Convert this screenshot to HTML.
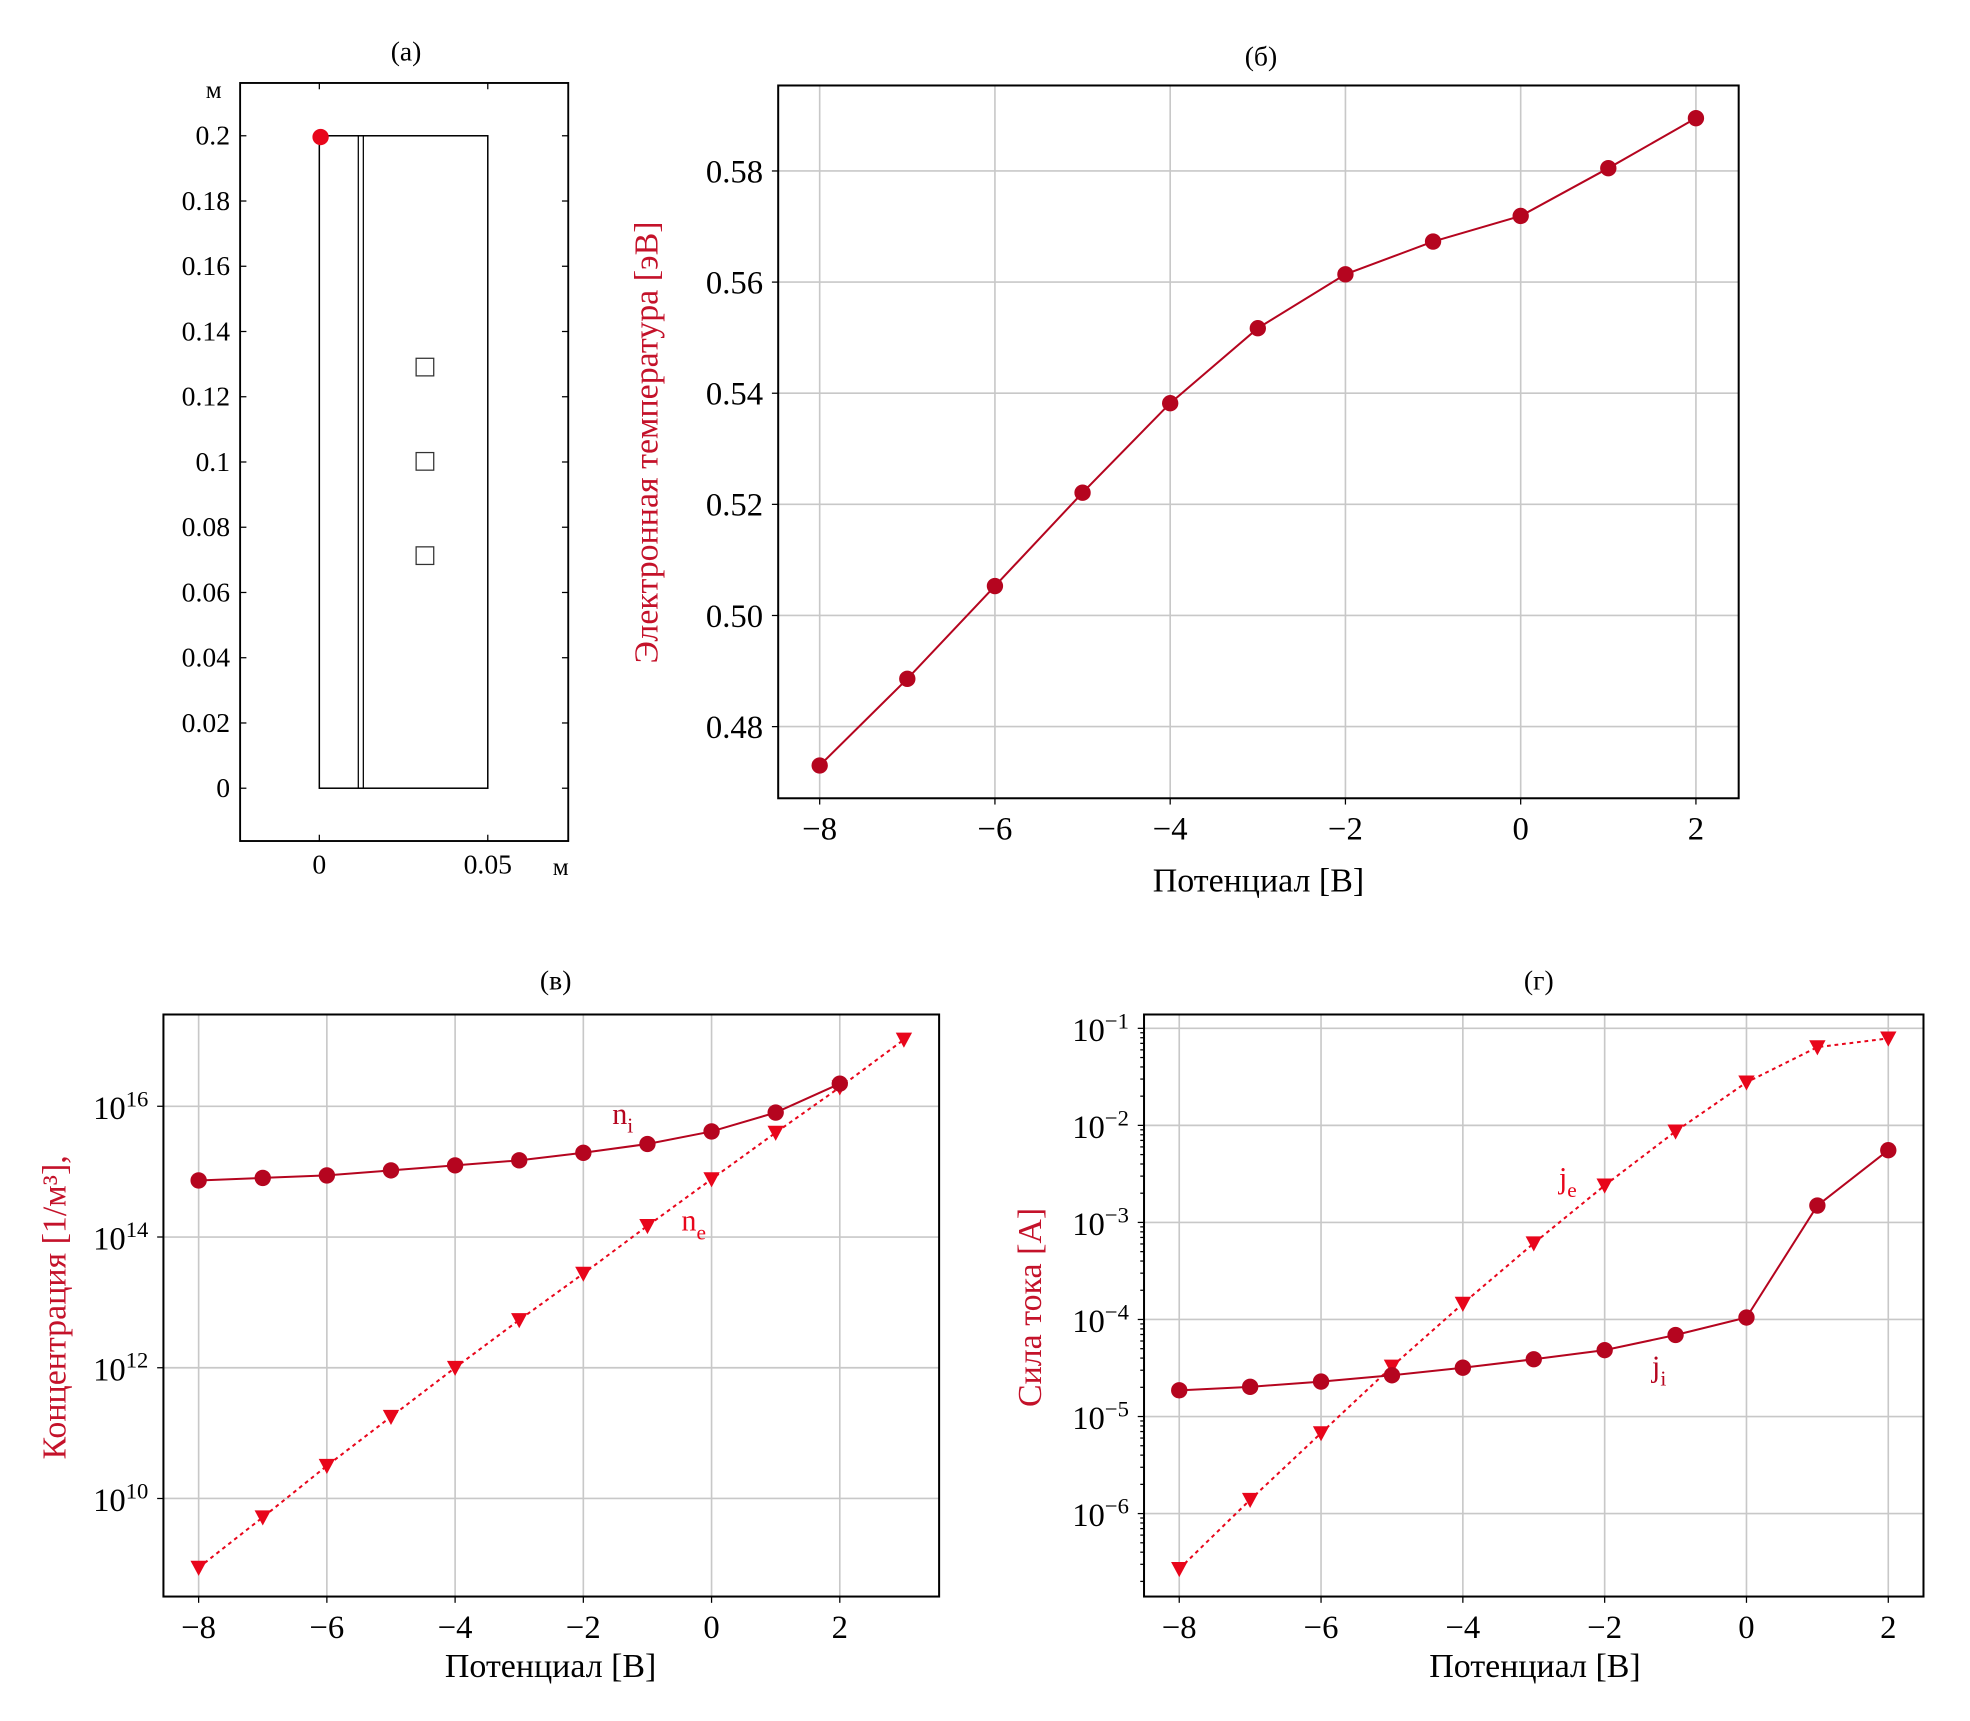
<!DOCTYPE html>
<html><head><meta charset="utf-8"><style>
html,body{margin:0;padding:0;background:#fff;}
svg, svg text{font-family:"Liberation Serif","Times New Roman",serif;}
svg{display:block;}
</style></head><body>
<svg id="fig" width="1970" height="1721" viewBox="0 0 1567 1369" preserveAspectRatio="none" font-family="Liberation Serif, Times New Roman, serif" xmlns="http://www.w3.org/2000/svg"></svg>
<script>
// Panel (б) data
const potB = [-8,-7,-6,-5,-4,-3,-2,-1,0,1,2];
const teB = [0.473,0.4886,0.5053,0.5221,0.5382,0.5517,0.5614,0.5673,0.5719,0.5805,0.5895];
const yTicksB = [0.48,0.50,0.52,0.54,0.56,0.58];
const xTicks = [-8,-6,-4,-2,0,2];
// Panel (в) data (log10 values)
const potNi = [-8,-7,-6,-5,-4,-3,-2,-1,0,1,2];
const logNi = [14.865,14.904,14.942,15.019,15.096,15.173,15.288,15.423,15.615,15.904,16.346];
const potNe = [-8,-7,-6,-5,-4,-3,-2,-1,0,1,2,3];
const logNe = [8.942,9.712,10.5,11.25,12.0,12.73,13.44,14.17,14.885,15.596,16.29,17.02];
const yTicksV = [10,12,14,16];
// Panel (г) data (log10 values)
const potJ = [-8,-7,-6,-5,-4,-3,-2,-1,0,1,2];
const logJi = [-4.73,-4.694,-4.64,-4.575,-4.497,-4.41,-4.316,-4.16,-3.98,-2.826,-2.256];
const logJe = [-6.57,-5.858,-5.171,-4.485,-3.837,-3.215,-2.619,-2.062,-1.557,-1.194,-1.104];
const yTicksG = [-6,-5,-4,-3,-2,-1];
// Panel (a) ticks
const yTicksA = [0,0.02,0.04,0.06,0.08,0.1,0.12,0.14,0.16,0.18,0.2];
const yLabelsA = ["0","0.02","0.04","0.06","0.08","0.1","0.12","0.14","0.16","0.18","0.2"];
const xTicksA = [0,0.05];
const xLabelsA = ["0","0.05"];

const NS="http://www.w3.org/2000/svg";
const svg=document.getElementById('fig');
function el(tag,attrs,parent,text){const e=document.createElementNS(NS,tag);for(const k in attrs)e.setAttribute(k,attrs[k]);if(text!==undefined)e.textContent=text;(parent||svg).appendChild(e);return e;}
function lin(d0,d1,r0,r1){return v=>r0+(v-d0)*(r1-r0)/(d1-d0);}
const DARK="#b5051f", BRIGHT="#e8061b";
function fmtMinus(v){return (v<0?"\u2212":"")+Math.abs(v);}

// ---------- Panel (a) ----------
(function(){
 const g=el('g',{});
 
 
 const sx=lin(0,0.05,254,388), sy=lin(0,0.2,627,108);
 const t=el('text',{x:323,y:48,'text-anchor':'middle','font-size':22},g,'(a)');
 
 const fr=el('rect',{x:191,y:66,width:261,height:603,fill:'none',stroke:'#000','stroke-width':1.5},g);
 
 yTicksA.forEach((v,i)=>{const y=sy(v);
  el('line',{x1:191,x2:196,y1:y,y2:y,stroke:'#000'},g);
  el('line',{x1:447,x2:452,y1:y,y2:y,stroke:'#000'},g);
  const l=el('text',{x:183,y:y+7,'text-anchor':'end','font-size':22},g,yLabelsA[i]);
  });
 xTicksA.forEach((v,i)=>{const x=sx(v);
  el('line',{x1:x,x2:x,y1:664,y2:669,stroke:'#000'},g);
  el('line',{x1:x,x2:x,y1:66,y2:71,stroke:'#000'},g);
  const l=el('text',{x:x,y:695,'text-anchor':'middle','font-size':22},g,xLabelsA[i]);
  });
 el('text',{x:170,y:78,'text-anchor':'middle','font-size':20},g,'м');
 el('text',{x:446,y:696,'text-anchor':'middle','font-size':20},g,'м');
 const geo=el('rect',{x:254,y:108,width:134,height:519,fill:'none',stroke:'#000','stroke-width':1.2},g);
 
 el('line',{x1:285,x2:285,y1:108,y2:627,stroke:'#000','stroke-width':1},g);
 el('line',{x1:289,x2:289,y1:108,y2:627,stroke:'#000','stroke-width':1},g);
 [292,367,442].forEach(y=>{const s=el('rect',{x:331,y:y-7,width:14,height:14,fill:'#fff',stroke:'#333','stroke-width':1},g);
  });
 const d=el('circle',{cx:255,cy:109,r:6.5,fill:BRIGHT},g);
 
})();

function frameAxes(g,x0,x1,y0,y1){
 const f=el('rect',{x:x0,y:y0,width:x1-x0,height:y1-y0,fill:'none',stroke:'#000','stroke-width':1.6},g);
 
}
function xAxis(g,sx,y0,y1){
 xTicks.forEach(v=>{const x=sx(v);
  el('line',{x1:x,x2:x,y1:y0,y2:y1,stroke:'#c8c8c8','stroke-width':1.3},g);
  el('line',{x1:x,x2:x,y1:y1,y2:y1+5,stroke:'#000'},g);
  const l=el('text',{x:x,y:y1+33,'text-anchor':'middle','font-size':26},g,fmtMinus(v));
  });
}
function xTitle(g,x,y){const t=el('text',{x:x,y:y,'text-anchor':'middle','font-size':27},g,'Потенциал [В]');
 }
function poly(g,pts,color,dash,name){const p=el('polyline',{points:pts.map(p=>p.join(',')).join(' '),fill:'none',stroke:color,'stroke-width':1.6},g);
 if(dash)p.setAttribute('stroke-dasharray',dash);
 }
function dots(g,pts,color,name){pts.forEach(p=>{const c=el('circle',{cx:p[0],cy:p[1],r:6.5,fill:color},g);
 });}
function tris(g,pts,color,name){pts.forEach(p=>{const t=el('polygon',{points:`${p[0]-6.5},${p[1]-5.5} ${p[0]+6.5},${p[1]-5.5} ${p[0]},${p[1]+6.5}`,fill:color},g);
 });}

// ---------- Panel (б) ----------
(function(){
 const g=el('g',{});
 const x0=619,x1=1383,y0=68,y1=635;
 const sx=lin(-8,2,652,1349), sy=lin(0.48,0.58,578,136);
 const t=el('text',{x:1003,y:52,'text-anchor':'middle','font-size':22},g,'(б)');
 
 yTicksB.forEach(v=>{const y=sy(v);
  el('line',{x1:x0,x2:x1,y1:y,y2:y,stroke:'#c8c8c8','stroke-width':1.3},g);
  el('line',{x1:x0-5,x2:x0,y1:y,y2:y,stroke:'#000'},g);
  const l=el('text',{x:x0-12,y:y+9,'text-anchor':'end','font-size':26},g,v.toFixed(2));
  });
 xAxis(g,sx,y0,y1);
 frameAxes(g,x0,x1,y0,y1);
 const yl=el('text',{x:0,y:0,transform:'translate(523,352) rotate(-90)','text-anchor':'middle','font-size':27,fill:'#c4122a'},g,'Электронная температура [эВ]');
 
 xTitle(g,1001,709);
 const pts=potB.map((p,i)=>[sx(p),sy(teB[i])]);
 poly(g,pts,DARK,null,'te-line');dots(g,pts,DARK,'te-point');
})();

// ---------- Panel (в) ----------
(function(){
 const g=el('g',{});
 const x0=130,x1=747,y0=807,y1=1270;
 const sx=lin(-8,2,158,668), sy=lin(10,16,1192,880);
 const t=el('text',{x:442,y:787,'text-anchor':'middle','font-size':22},g,'(в)');
 
 yTicksV.forEach(v=>{const y=sy(v);
  el('line',{x1:x0,x2:x1,y1:y,y2:y,stroke:'#c8c8c8','stroke-width':1.3},g);
  el('line',{x1:x0-5,x2:x0,y1:y,y2:y,stroke:'#000'},g);
  const l=el('text',{x:x0-12,y:y+10,'text-anchor':'end','font-size':26},g);
  
  el('tspan',{},l,'10');el('tspan',{dy:-10,'font-size':18},l,String(v));});
 xAxis(g,sx,y0,y1);
 frameAxes(g,x0,x1,y0,y1);
 const yl=el('text',{x:0,y:0,transform:'translate(52,1040) rotate(-90)','text-anchor':'middle','font-size':27,fill:'#c4122a'},g,'Концентрация [1/м³],');
 
 xTitle(g,438,1334);
 const ni=potNi.map((p,i)=>[sx(p),sy(logNi[i])]);
 const ne=potNe.map((p,i)=>[sx(p),sy(logNe[i])]);
 poly(g,ne,BRIGHT,'3,3','ne-line');tris(g,ne,BRIGHT,'ne-point');
 poly(g,ni,DARK,null,'ni-line');dots(g,ni,DARK,'ni-point');
 const a=el('text',{x:487,y:894,'font-size':24,fill:DARK},g);
 el('tspan',{},a,'n');el('tspan',{dy:7,'font-size':17},a,'i');
 const b=el('text',{x:542,y:979,'font-size':24,fill:BRIGHT},g);
 el('tspan',{},b,'n');el('tspan',{dy:7,'font-size':17},b,'e');
})();

// ---------- Panel (г) ----------
(function(){
 const g=el('g',{});
 const x0=910,x1=1530,y0=807,y1=1270;
 const sx=lin(-8,2,938,1502), sy=lin(-6,-1,1204,818);
 const t=el('text',{x:1224,y:787,'text-anchor':'middle','font-size':22},g,'(г)');
 
 yTicksG.forEach(v=>{const y=sy(v);
  el('line',{x1:x0,x2:x1,y1:y,y2:y,stroke:'#c8c8c8','stroke-width':1.3},g);
  el('line',{x1:x0-5,x2:x0,y1:y,y2:y,stroke:'#000'},g);
  const l=el('text',{x:x0-12,y:y+10,'text-anchor':'end','font-size':26},g);
  
  el('tspan',{},l,'10');el('tspan',{dy:-10,'font-size':18},l,fmtMinus(v));});
 for(let d=-7;d<=-1;d++){for(let m=2;m<=9;m++){const y=sy(d+Math.log10(m));
  if(y>y0&&y<y1)el('line',{x1:x0-3,x2:x0,y1:y,y2:y,stroke:'#000','stroke-width':1},g);}}
 xAxis(g,sx,y0,y1);
 frameAxes(g,x0,x1,y0,y1);
 const yl=el('text',{x:0,y:0,transform:'translate(828,1040) rotate(-90)','text-anchor':'middle','font-size':27,fill:'#c4122a'},g,'Сила тока [А]');
 
 xTitle(g,1221,1334);
 const je=potJ.map((p,i)=>[sx(p),sy(logJe[i])]);
 const ji=potJ.map((p,i)=>[sx(p),sy(logJi[i])]);
 poly(g,je,BRIGHT,'3,3','je-line');tris(g,je,BRIGHT,'je-point');
 poly(g,ji,DARK,null,'ji-line');dots(g,ji,DARK,'ji-point');
 const a=el('text',{x:1240,y:945,'font-size':24,fill:BRIGHT},g);
 el('tspan',{},a,'j');el('tspan',{dy:7,'font-size':17},a,'e');
 const b=el('text',{x:1314,y:1095,'font-size':24,fill:DARK},g);
 el('tspan',{},b,'j');el('tspan',{dy:7,'font-size':17},b,'i');
})();
</script>
</body></html>
